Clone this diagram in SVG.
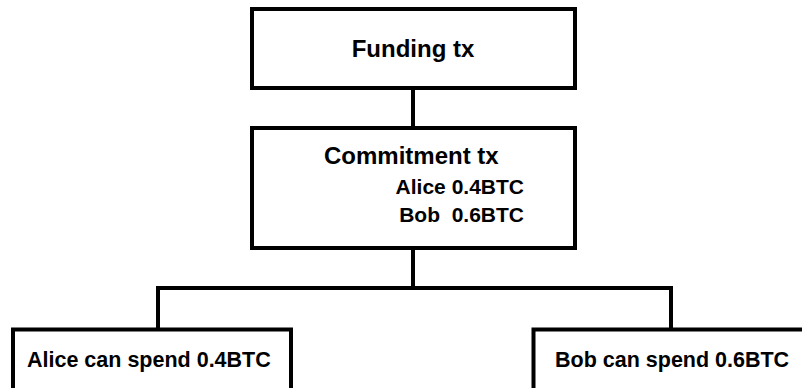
<svg xmlns="http://www.w3.org/2000/svg" width="802" height="388" viewBox="0 0 802 388">
<style>
.box{fill:#fff;stroke:#000;stroke-width:4}
.line{fill:none;stroke:#000;stroke-width:4}
text{font-family:"Liberation Sans",Arial,sans-serif;font-weight:bold;fill:#000}
</style>
<rect width="802" height="388" fill="#fff"/>
<g id="connectors">
<line class="line" x1="413" y1="88" x2="413" y2="128"/>
<polyline class="line" points="158,329 158,288 413,288 413,248"/>
<polyline class="line" points="413,288 671,288 671,329"/>
</g>
<g id="funding">
<rect class="box" x="252" y="9" width="323" height="79"/>
<text x="413" y="57" font-size="24" text-anchor="middle">Funding tx</text>
</g>
<g id="commitment">
<rect class="box" x="252" y="128" width="323" height="120"/>
<text x="324" y="163.5" font-size="24">Commitment tx</text>
<text x="524" y="193.5" font-size="21" text-anchor="end">Alice 0.4BTC</text>
<text x="524" y="221.5" font-size="21" text-anchor="end" xml:space="preserve">Bob  0.6BTC</text>
</g>
<g id="alice">
<rect class="box" x="13" y="329.5" width="278" height="70"/>
<text x="27" y="366.5" font-size="21.5">Alice can spend 0.4BTC</text>
</g>
<g id="bob">
<rect class="box" x="533.5" y="329.5" width="290" height="70"/>
<text x="555" y="366.5" font-size="21.5">Bob can spend 0.6BTC</text>
</g>
</svg>
